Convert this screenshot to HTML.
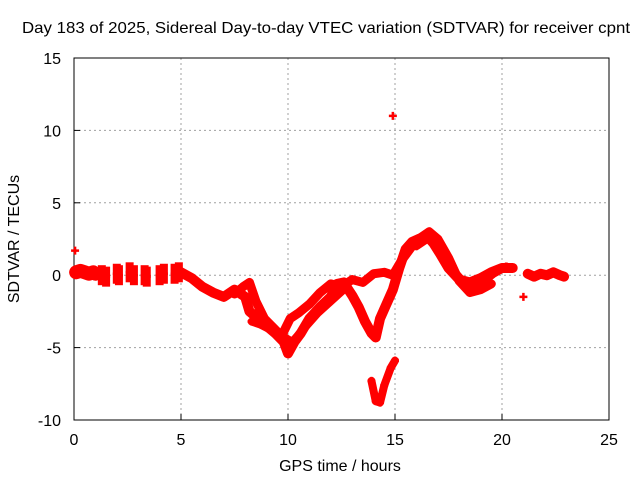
<!DOCTYPE html>
<html><head><meta charset="utf-8"><style>
body{margin:0;background:#fff}
svg text{font-family:"Liberation Sans",sans-serif;font-size:16px;fill:#000}
</style></head><body>
<svg id="chart" width="640" height="480">
<g id="grid"></g>
<g id="axes"></g>
<g id="series"></g>
<text x="22" y="33" textLength="608" lengthAdjust="spacingAndGlyphs">Day 183 of 2025, Sidereal Day-to-day VTEC variation (SDTVAR) for receiver cpnt</text>
<text x="340" y="471" text-anchor="middle">GPS time / hours</text>
<text transform="translate(19,239) rotate(-90)" text-anchor="middle">SDTVAR / TECUs</text>
</svg>
<script>
const xTicks=[0,5,10,15,20,25];
const yTicks=[-10,-5,0,5,10,15];
// tracks: hours and TECU values
const trackMainX=[0.1,0.3,0.5,0.7,0.9,1.0];
const trackMainY=[0.2,0.3,0.2,0.1,0.2,0.1];
const clusterX=[1.3,1.5,2.0,2.1,2.6,2.8,3.3,3.4,4.0,4.2,4.7,4.9];
const clusterY=[0.0,-0.1,0.1,0.0,0.2,0.0,0.0,-0.1,0.0,0.1,0.1,0.2];
const trackAX=[5.0,5.5,6.0,6.5,7.0,7.5,8.0,8.2,8.6,9.0,9.4,9.8,10.0,10.3,10.6,11.0,11.5,12.0,12.3,12.6,13.0,13.3,13.6,13.9,14.1,14.3,14.6,14.9,15.2,15.5,15.8,16.1,16.5,16.8,17.1,17.5,18.0,18.5,19.0,19.5,20.0,20.5];
const trackAY=[0.2,-0.2,-0.8,-1.2,-1.5,-1.0,-1.5,-2.5,-3.0,-3.5,-4.0,-4.6,-5.4,-4.6,-4.0,-3.0,-2.2,-1.5,-0.6,-0.5,-1.4,-2.2,-3.2,-4.0,-4.3,-3.0,-2.0,-1.0,0.5,1.8,2.3,2.5,2.7,2.2,1.5,0.5,-0.3,-0.5,-0.2,0.2,0.5,0.5];
const trackBX=[7.5,7.9,8.2,8.5,8.9,9.3,9.7,10.1,10.5,11.0,11.5,12.0,12.5,13.0,13.5,14.0,14.5,14.9,15.3,15.8,16.2,16.6,17.0,17.5,18.0,18.5,19.0,19.5];
const trackBY=[-1.3,-0.8,-0.5,-1.8,-3.0,-3.6,-4.2,-3.0,-2.6,-2.0,-1.2,-0.6,-0.8,-0.3,-0.5,0.1,0.2,0.0,1.0,2.0,2.6,3.0,2.5,1.2,-0.4,-1.2,-1.0,-0.6];
const trackEX=[8.3,8.7,9.1,9.5,10.2,10.8,11.4,12.0,12.6];
const trackEY=[-3.2,-3.4,-3.7,-4.0,-4.6,-3.6,-2.6,-1.8,-1.0];
const trackFX=[16.0,16.6,17.2,17.8,18.4,19.0,19.6,20.2];
const trackFY=[2.0,2.6,2.0,0.2,-0.8,-0.6,0.1,0.6];
const trackCX=[13.9,14.1,14.3,14.5,14.8,15.0];
const trackCY=[-7.3,-8.7,-8.8,-7.6,-6.4,-5.9];
const trackDX=[21.2,21.5,21.8,22.1,22.4,22.7,22.9];
const trackDY=[0.1,-0.1,0.1,0.0,0.2,0.0,-0.1];
const singleX=[0.05,14.9,21.0];
const singleY=[1.7,11.0,-1.5];

const L=74,R=609,T=58,B=420;
const sx=v=>L+(v-0)/25*(R-L);
const sy=v=>B-(v+10)/25*(B-T);
const NS="http://www.w3.org/2000/svg";
function mk(tag,attrs,parent){const e=document.createElementNS(NS,tag);for(const k in attrs)e.setAttribute(k,attrs[k]);parent.appendChild(e);return e;}
const grid=document.getElementById('grid'),axes=document.getElementById('axes'),ser=document.getElementById('series');
xTicks.forEach(t=>{
  if(t>0&&t<25){const g=mk('line',{x1:sx(t),x2:sx(t),y1:T,y2:B,stroke:'#a0a0a0','stroke-dasharray':'2,3'},grid);
  
  }
  const tk=mk('line',{x1:sx(t),x2:sx(t),y1:B,y2:B-6,stroke:'#000'},axes);
  
  
  const tx=mk('text',{x:sx(t),y:B+25,'text-anchor':'middle'},axes);tx.textContent=t;
  
  
});
yTicks.forEach(t=>{
  if(t>-10&&t<15){const g=mk('line',{x1:L,x2:R,y1:sy(t),y2:sy(t),stroke:'#a0a0a0','stroke-dasharray':'2,3'},grid);
  
  }
  const tk=mk('line',{x1:L,x2:L+6,y1:sy(t),y2:sy(t),stroke:'#000'},axes);
  
  
  const tx=mk('text',{x:L-13,y:sy(t)+6,'text-anchor':'end'},axes);tx.textContent=t;
  
  
});
const fr=mk('rect',{x:L,y:T,width:R-L,height:B-T,fill:'none',stroke:'#000'},axes);



function band(xs,ys,name,w){
  const p=mk('polyline',{points:xs.map((x,i)=>sx(x)+','+sy(ys[i])).join(' '),fill:'none',stroke:'#f00','stroke-width':w,'stroke-linejoin':'round','stroke-linecap':'round'},ser);
  
  
}
function plus(xs,ys,name){
  xs.forEach((x,i)=>{
    const px=sx(x),py=sy(ys[i]);
    const m=mk('path',{d:`M${px-4},${py}h8M${px},${py-4}v8`,stroke:'#f00','stroke-width':2.5},ser);
    
    
  });
}
band(trackMainX,trackMainY,'track-start',14);
band(trackAX,trackAY,'track-a',10);
band(trackBX,trackBY,'track-b',9);
band(trackEX,trackEY,'track-e',8);
band(trackFX,trackFY,'track-f',8);
band(trackCX,trackCY,'track-c',8);
band(trackDX,trackDY,'track-d',10);
plus(clusterX,clusterY,'cluster-point');
clusterX.forEach((x,i)=>{
  const p=mk('rect',{x:sx(x)-4,y:sy(clusterY[i])-10,width:8,height:20,fill:'#f00'},ser);
  
  
});
plus(trackAX,trackAY,'point-a');
plus(trackBX,trackBY,'point-b');
plus(trackEX,trackEY,'point-e');
plus(trackFX,trackFY,'point-f');
plus(trackCX,trackCY,'point-c');
plus(singleX,singleY,'single-point');
</script>
</body></html>
